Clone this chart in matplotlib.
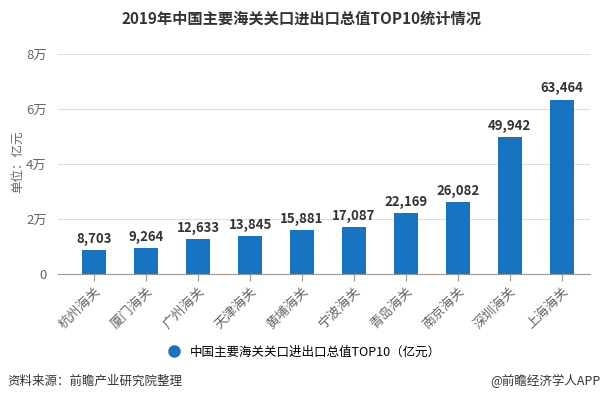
import matplotlib.pyplot as plt
from matplotlib.lines import Line2D

plt.rcParams['font.family'] = ['Noto Sans CJK SC', 'DejaVu Sans']

# data
customs = ["杭州海关", "厦门海关", "广州海关", "天津海关", "黄埔海关",
           "宁波海关", "青岛海关", "南京海关", "深圳海关", "上海海关"]
values = [8703, 9264, 12633, 13845, 15881, 17087, 22169, 26082, 49942, 63464]
yticks = [0, 20000, 40000, 60000, 80000]
ytick_labels = ["0", "2万", "4万", "6万", "8万"]

bar_color = "#1874c1"
grey = "#666666"

fig = plt.figure(figsize=(6.02, 4.04), dpi=100)
ax = fig.add_axes([0.0963, 0.322, 0.884, 0.544])

x = range(len(customs))
ax.bar(x, values, width=0.46, color=bar_color, zorder=3)
for i, v in enumerate(values):
    ax.text(i, v + 1500, f"{v:,}", ha="center", va="bottom",
            fontsize=9.5, fontweight="bold", color="#333333")

ax.set_xlim(-0.7, 9.55)
ax.set_ylim(0, 80000)
ax.set_yticks(yticks)
ax.set_yticklabels(ytick_labels, color=grey, fontsize=9.5)
ax.set_xticks(list(x))
ax.set_xticklabels(customs, rotation=45, ha="right", rotation_mode="anchor",
                   color=grey, fontsize=9.5)
ax.tick_params(axis="y", length=0, pad=8)
ax.tick_params(axis="x", length=5, color="#999999", pad=3)
ax.grid(axis="y", color="#dddddd", linewidth=0.8, zorder=0)
for s in ["top", "right", "left"]:
    ax.spines[s].set_visible(False)
ax.spines["bottom"].set_color("#999999")

fig.text(0.03, 0.60, "单位：亿元", rotation=90, ha="center", va="center",
         color=grey, fontsize=9)

fig.text(0.5, 0.955, "2019年中国主要海关关口进出口总值TOP10统计情况",
         ha="center", va="center", fontsize=11, fontweight="bold", color="#333333")

handle = Line2D([], [], marker="o", linestyle="none", markersize=8,
                markerfacecolor=bar_color, markeredgecolor=bar_color)
fig.legend([handle], ["中国主要海关关口进出口总值TOP10（亿元）"],
           loc="center", bbox_to_anchor=(0.5, 0.128), frameon=False,
           fontsize=9, handletextpad=0.3)

fig.text(0.013, 0.057, "资料来源：前瞻产业研究院整理", ha="left", va="center",
         fontsize=9, color="#333333")
fig.text(0.997, 0.057, "@前瞻经济学人APP", ha="right", va="center",
         fontsize=9, color="#333333")

fig.savefig("out.png", dpi=100)
